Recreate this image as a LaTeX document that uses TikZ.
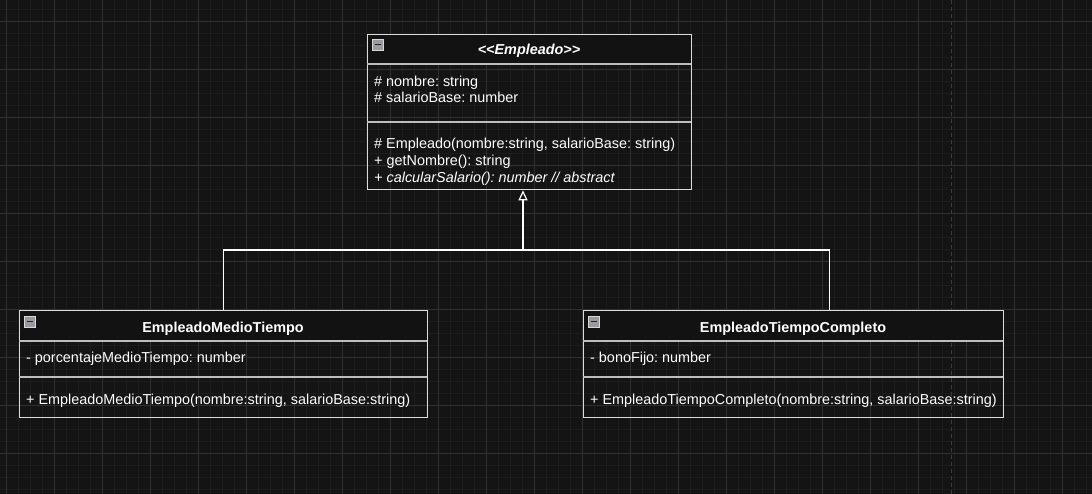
\documentclass[tikz,border=0pt]{standalone}
\usepackage{fontspec}
\setmainfont{Liberation Sans}
\usepackage{xcolor}
\usepackage{tikz}
\usetikzlibrary{arrows.meta}
\frenchspacing

\definecolor{canvas}{HTML}{141414}
\definecolor{gridmajor}{HTML}{303030}
\definecolor{gridminor}{HTML}{1C1C1C}
\definecolor{pagebreak}{HTML}{3C3C3C}
\definecolor{boxline}{HTML}{DCDCDC}
\definecolor{sepline}{HTML}{BEBEBE}
\definecolor{headfill}{HTML}{121212}
\definecolor{icongray}{HTML}{9A9AA0}

\tikzset{
  classbox/.style={draw=boxline, line width=1.3pt, rectangle, inner sep=0pt, anchor=north west},
  compline/.style={draw=sepline, line width=1.3pt},
  member/.style={anchor=base west, inner sep=0pt, text=white, font=\fontsize{14.4}{18}\selectfont},
  classname/.style={member, anchor=base, font=\fontsize{14.4}{18}\selectfont\bfseries},
  collapse/.style={draw=gray!30, fill=icongray, minimum size=11pt, inner sep=0pt, line width=0.7pt},
  extends/.style={draw=white, line width=1.2pt, -{Triangle[open, length=10pt, width=9pt, fill=canvas]}},
  plain/.style={draw=white, line width=1.2pt}
}

\begin{document}
\begin{tikzpicture}[x=1pt, y=-1pt]
        % canvas and grid
        \fill[canvas] (0,0) rectangle (1092,494);
        \useasboundingbox (0,0) rectangle (1092,494);
        \foreach \gx in {6,18,...,1086}
            \draw[gridminor, line width=0.6pt] (\gx,0) -- (\gx,494);
        \foreach \gy in {9,21,...,489}
            \draw[gridminor, line width=0.6pt] (0,\gy) -- (1092,\gy);
        \foreach \gx in {6,54,...,1062}
            \draw[gridmajor, line width=0.8pt] (\gx,0) -- (\gx,494);
        \foreach \gy in {21,69,...,453}
            \draw[gridmajor, line width=0.8pt] (0,\gy) -- (1092,\gy);
        \draw[pagebreak, line width=0.8pt, dash pattern=on 4pt off 3pt] (951,0) -- (951,494);

        % <<Empleado>>
        \fill[headfill] (367,34) rectangle (691,64);
        \node[classbox, minimum width=324pt, minimum height=155pt] (emp) at (367,34) {};
        \draw[compline] (367,64) -- (691,64);
        \draw[compline] (367,122) -- (691,122);
        \node[collapse] (empicon) at (377.5,44.5) {};
        \draw[black!85, line width=1.8pt] (374.5,44.5) -- (380.5,44.5);
        \node[classname] (empname) at (529,55) {\itshape <\kern0pt<Empleado>\kern0pt>};
        \node[member] (empattra) at (374,87) {\# nombre: string};
        \node[member] (empattrb) at (374,103) {\# salarioBase: number};
        \node[member] (empopa) at (374,149) {\# Empleado(nombre:string, salarioBase: string)};
        \node[member] (empopb) at (374,166) {+ getNombre(): string};
        \node[member] (empopc) at (374,183) {\itshape + calcularSalario(): number // abstract};

        % EmpleadoMedioTiempo
        \fill[headfill] (19,310) rectangle (427,341);
        \node[classbox, minimum width=408pt, minimum height=107pt] (medio) at (19,310) {};
        \draw[compline] (19,341) -- (427,341);
        \draw[compline] (19,377) -- (427,377);
        \node[collapse] (medioicon) at (29.5,321.5) {};
        \draw[black!85, line width=1.8pt] (26.5,321.5) -- (32.5,321.5);
        \node[classname] (medioname) at (223,332) {EmpleadoMedioTiempo};
        \node[member] (medioattr) at (26,362) {- porcentajeMedioTiempo: number};
        \node[member] (medioop) at (26,404) {+ EmpleadoMedioTiempo(nombre:string, salarioBase:string)};

        % EmpleadoTiempoCompleto
        \fill[headfill] (583,310) rectangle (1003,341);
        \node[classbox, minimum width=420pt, minimum height=107pt] (completo) at (583,310) {};
        \draw[compline] (583,341) -- (1003,341);
        \draw[compline] (583,377) -- (1003,377);
        \node[collapse] (completoicon) at (593.5,321.5) {};
        \draw[black!85, line width=1.8pt] (590.5,321.5) -- (596.5,321.5);
        \node[classname] (completoname) at (793,332) {EmpleadoTiempoCompleto};
        \node[member] (completoattr) at (590,362) {- bonoFijo: number};
        \node[member] (completoop) at (590,404) {+ EmpleadoTiempoCompleto(nombre:string, salarioBase:string)};

        % generalization
        \coordinate (fork) at (523,250);
        \draw[plain] (medio.north) |- (fork) -| ([xshift=36pt]completo.north);
        \draw[extends] (fork) -- (fork |- emp.south);
    \end{tikzpicture}
\end{document}
